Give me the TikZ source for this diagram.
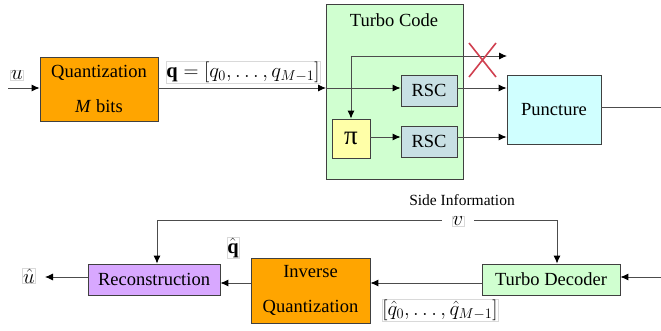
\documentclass[tikz,border=0pt]{standalone}
\usepackage{fontspec}
\setmainfont{Liberation Serif}
\usetikzlibrary{arrows.meta}
\definecolor{qorange}{RGB}{255,165,0}
\definecolor{tgreen}{RGB}{208,255,208}
\definecolor{rscblue}{RGB}{200,224,228}
\definecolor{piyellow}{RGB}{255,255,168}
\definecolor{pcyan}{RGB}{208,255,255}
\definecolor{rlav}{RGB}{216,168,255}
\definecolor{xred}{RGB}{208,64,80}
\tikzset{
  blk/.style={draw=black!75, line width=0.8pt, inner sep=0pt, align=center,
    font=\rmfamily\fontsize{18.5}{35}\selectfont},
  lbl/.style={draw=black!15, line width=0.5pt, inner sep=0.5pt,
    font=\fontsize{20.5}{24}\selectfont},
  ln/.style={draw=black!70, line width=0.9pt},
  arr/.style={ln, -{Latex[length=8pt,width=7pt,color=black]}}
}
\begin{document}
\begin{tikzpicture}[x=1pt,y=-1pt]
\useasboundingbox (0,0) rectangle (661,331);
% top
\node[blk, fill=tgreen, minimum width=137pt, minimum height=175pt] (turbo) at (394.5,91.5) {};
\node[font=\rmfamily\fontsize{18.5}{22}\selectfont] (ttl) at (394,20) {Turbo Code};
\node[blk, fill=qorange, minimum width=118pt, minimum height=64pt] (quant) at (99,89) {Quantization\\\textit{M} bits};
\node[blk, fill=rscblue, minimum width=56pt, minimum height=31pt] (rsc1) at (429,90.5) {RSC};
\node[blk, fill=rscblue, minimum width=56pt, minimum height=31pt] (rsc2) at (429,141.5) {RSC};
\node[blk, fill=piyellow, minimum width=38pt, minimum height=39pt, font=\rmfamily\fontsize{27}{30}\selectfont] (pi) at (351,138.5) {π};
\node[blk, fill=pcyan, minimum width=94pt, minimum height=69pt] (punct) at (554,109.5) {Puncture};
\node[lbl] (ulab) at (17,75) {$u$};
\node[lbl] (qlab) at (243,72.5) {$\mathbf{q}=[q_0,\ldots,q_{M-1}]$};
\coordinate (uin) at (8,88);
\coordinate (tin) at (326,88);
\coordinate (br) at (351,56);
\coordinate (bre) at (507,56);
\coordinate (pout) at (661,107);
\draw[arr] (uin) -- (uin -| quant.west);
\draw[arr] (tin -| quant.east) -- (tin);
\draw[arr] (tin) -- (tin -| rsc1.west);
\draw[arr] (br) -- (bre);
\draw[arr] (br) -- (pi.north);
\draw[arr] (tin -| rsc1.east) -- (tin -| punct.west);
\draw[arr] (pi.east |- 0,137) -- (rsc2.west |- 0,137);
\draw[arr] (rsc2.east |- 0,137) -- (punct.west |- 0,137);
\draw[ln] (pout -| punct.east) -- (pout);
\draw[xred, line width=1.6pt] (469,43) -- (496,77) (469,77) -- (496,43);
% bottom
\node[blk, fill=rlav, minimum width=132pt, minimum height=31pt] (recon) at (154,279.5) {Reconstruction};
\node[blk, fill=qorange, minimum width=119pt, minimum height=65pt] (invq) at (310.5,290.5) {Inverse\\Quantization};
\node[blk, fill=tgreen, minimum width=138pt, minimum height=31pt] (tdec) at (551,279.5) {Turbo Decoder};
\node[font=\rmfamily\fontsize{15.5}{18}\selectfont] (side) at (462,200) {Side Information};
\node[lbl] (vlab) at (458,221) {$v$};
\node[lbl] (uhat) at (29,276) {$\hat{u}$};
\node[lbl] (qhat) at (233,248) {$\hat{\mathbf{q}}$};
\node[lbl] (qhl) at (440,310) {$[\hat{q}_0,\ldots,\hat{q}_{M-1}]$};
\coordinate (sl) at (157,220);
\coordinate (sr) at (557,220);
\coordinate (din) at (661,277);
\coordinate (uo) at (45,277);
\draw[arr] (vlab.west |- sl) ++(-10,0) -- (sl) -- (sl |- recon.north);
\draw[arr] (vlab.east |- sr) ++(10,0) -- (sr) -- (sr |- tdec.north);
\draw[arr] (din) -- (din -| tdec.east);
\draw[arr] (tdec.west |- 0,283) -- (invq.east |- 0,283);
\draw[arr] (invq.west |- 0,283) -- (recon.east |- 0,283);
\draw[arr] (uo -| recon.west) -- (uo);
\end{tikzpicture}
\end{document}
